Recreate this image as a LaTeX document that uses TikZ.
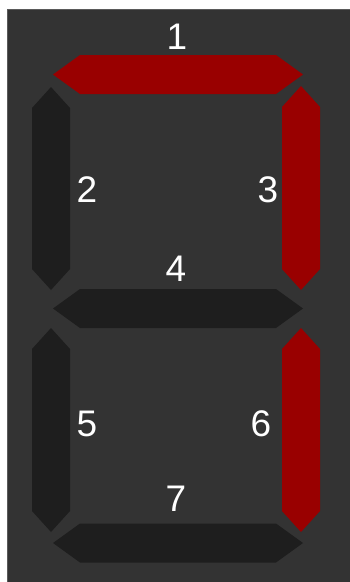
\documentclass[tikz,border=0pt]{standalone}
\usepackage{fontspec}
\setmainfont{Liberation Sans}
\definecolor{panel}{HTML}{333333}
\definecolor{panelrim}{HTML}{5A5A5A}
\definecolor{segred}{HTML}{990000}
\definecolor{segdark}{HTML}{1E1E1E}
\begin{document}
\begin{tikzpicture}[x=1pt,y=-1pt,line join=miter,
  segon/.style={fill=segred},
  segoff/.style={fill=segdark},
  digit/.style={text=white,font=\fontsize{37}{40}\selectfont,inner sep=0pt,anchor=base}]
  \useasboundingbox (0,0) rectangle (350,582);
  \fill[white] (0,0) rectangle (350,582);
  \filldraw[fill=panel,draw=panelrim,line width=1pt] (7.5,9.5) rectangle (352,584);
  % horizontal segments: centre / state
  \foreach \c/\s in {74.5/segon,308.5/segoff,543/segoff}
    \fill[\s] (53,\c) -- (80,\c-19.5) -- (276,\c-19.5) -- (303,\c)
      -- (276,\c+19.5) -- (80,\c+19.5) -- cycle;
  % vertical segments: centre / top / bottom / state
  \foreach \c/\a/\b/\s in {51/87/290/segoff,301/86/290/segon,51/328/532/segoff,301/328/532/segon}
    \fill[\s] (\c,\a) -- (\c+19,\a+21) -- (\c+19,\b-21) -- (\c,\b)
      -- (\c-19,\b-21) -- (\c-19,\a+21) -- cycle;
  % labels
  \foreach \n/\x/\y in {1/177/49,2/87/202,3/268/202,4/176/281,5/87/436,6/261/436,7/176/511}
    \node[digit] (l\n) at (\x,\y) {\n};
\end{tikzpicture}
\end{document}
